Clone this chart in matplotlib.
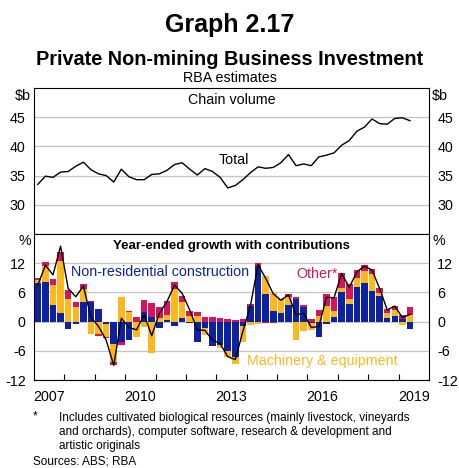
import numpy as np
import pandas as pd
import matplotlib
matplotlib.use('Agg')
import matplotlib.pyplot as plt
from matplotlib.ticker import FixedLocator, NullFormatter, FixedFormatter

plt.rcParams['font.family'] = ['Liberation Sans', 'DejaVu Sans']

# ---------------- data ----------------
quarters = pd.period_range('2007Q1', '2019Q2', freq='Q')

# Chain volume, $b
total_level = [33.5, 34.9, 34.7, 35.6, 35.7, 36.6, 37.3, 36.0, 35.3, 35.0,
               33.9, 36.1, 34.8, 34.3, 34.3, 35.2, 35.3, 35.9, 36.9, 37.2,
               36.1, 35.1, 36.2, 35.7, 34.7, 32.9, 33.3, 34.3, 35.5, 36.5,
               36.25, 36.4, 37.2, 38.6, 36.7, 37.0, 36.7, 38.2, 38.5, 38.9,
               40.2, 41.0, 42.6, 43.3, 44.7, 43.9, 43.8, 44.8, 44.9, 44.4]

# Year-ended growth, %
growth_total = [7.5, 11.6, 9.6, 15.5, 6.8, 5.1, 7.3, 0.9, -1.0, -3.8,
                -9.0, 0.7, -1.2, -1.7, 1.4, -2.9, 1.7, 4.1, 7.5, 5.8,
                2.4, -1.7, -1.8, -3.8, -4.5, -7.2, -7.8, -2.0, 3.3, 11.7,
                8.9, 5.7, 4.4, 5.5, 1.4, 1.7, -1.2, -1.0, 5.0, 4.9,
                9.9, 7.0, 10.2, 11.4, 10.6, 6.8, 2.4, 3.2, 0.8, 1.5]

# Contributions, ppt
nonres = [8.0, 8.2, 3.4, 1.8, -1.5, -0.5, 4.1, 4.0, 2.6, -0.4,
          -4.6, -4.2, -3.7, 0.0, 2.0, 0.9, -1.4, 0.4, -1.0, 0.8,
          -0.3, -4.1, -1.3, -5.1, -4.8, -6.0, -7.2, -1.0, 3.3, 11.5,
          5.6, 2.2, 1.8, 3.4, 4.6, 3.0, -0.3, -3.2, -0.5, 0.9,
          6.1, 3.6, 7.2, 8.0, 6.3, 5.2, 0.7, 1.2, 0.5, -1.5]
machinery = [0.6, 3.3, 4.1, 10.7, 4.7, 2.9, 2.6, -2.5, -2.6, -2.7,
             -3.7, 5.0, 2.0, -3.2, -1.2, -6.4, 0.8, 1.0, 6.6, 3.3,
             1.2, 1.2, -1.4, 0.0, -0.7, -1.3, -1.6, -3.1, -0.8, -0.5,
             3.7, 3.6, 2.6, 1.7, -3.8, -2.0, -1.4, 1.2, 3.2, 1.3,
             0.9, 1.0, 1.7, 2.3, 3.4, 0.7, 1.0, 1.2, -0.8, 1.4]
other = [0.4, 0.7, 1.3, 1.7, 1.7, 1.2, 1.0, 0.2, -0.4, -0.3,
         -0.7, -0.6, 0.1, 0.9, 2.5, 3.0, 2.1, 2.8, 1.5, 1.2,
         1.0, 0.8, 0.9, 0.9, 0.7, 0.5, 0.4, 0.5, 0.3, 0.6,
         -0.2, -0.2, 0.2, 0.6, 0.4, 0.5, 0.5, 1.2, 2.5, 2.9,
         2.9, 3.2, 1.7, 1.3, 1.1, 1.1, 0.8, 0.8, 0.9, 1.5]

year_labels = ['2007', '2010', '2013', '2016', '2019']

# ---------------- style ----------------
BLUE = '#0c22a3'
ORANGE = '#ffb81c'
MAGENTA = '#d6145d'
GRID = '#c4c4c4'
FS = 10.3

W, H = 459, 468
fig = plt.figure(figsize=(W / 100, H / 100), dpi=100)

def fx(px):
    return px / W

def fy(py):
    return 1 - py / H

L, R = 34, 429
T1, MID, B2 = 88, 234, 380
ax1 = fig.add_axes([fx(L), fy(MID), fx(R - L), (MID - T1) / H])
ax2 = fig.add_axes([fx(L), fy(B2), fx(R - L), (B2 - MID) / H])

xpos = np.array([q.year + (q.quarter - 1) / 4 + 0.125 for q in quarters])

for ax in (ax1, ax2):
    ax.set_xlim(2007, 2020)
    for s in ax.spines.values():
        s.set_color('black')
        s.set_linewidth(0.8)
    ax.set_axisbelow(True)
    ax.yaxis.grid(True, color=GRID, linewidth=0.9)
    ax.tick_params(axis='y', which='both', left=False, right=False,
                   labelleft=True, labelright=True, labelsize=FS, pad=2.5)

# ---- top panel ----
ax1.plot(xpos, total_level, color='black', linewidth=1.0)
ax1.set_ylim(25, 50)
ax1.set_yticks([30, 35, 40, 45])
ax1.tick_params(axis='x', which='both', bottom=False, top=False,
                labelbottom=False)
ax1.text(2013.5, 47.9, 'Chain volume', ha='center', va='center', fontsize=FS)
ax1.text(2013.57, 37.7, 'Total', ha='center', va='center', fontsize=FS)
for xx, ha in ((-0.008, 'right'), (1.008, 'left')):
    ax1.text(xx, 48.6, '$b', transform=ax1.get_yaxis_transform(),
             ha=ha, va='center', fontsize=FS)

# ---- bottom panel ----
pos_base = np.zeros(len(xpos))
neg_base = np.zeros(len(xpos))
for vals, col in ((nonres, BLUE), (machinery, ORANGE), (other, MAGENTA)):
    v = np.asarray(vals, dtype=float)
    bottom = np.where(v >= 0, pos_base, neg_base)
    ax2.bar(xpos, v, bottom=bottom, width=0.215, color=col, linewidth=0,
            zorder=2)
    pos_base += np.where(v >= 0, v, 0)
    neg_base += np.where(v < 0, v, 0)
ax2.plot(xpos, growth_total, color='black', linewidth=1.0, zorder=3)
ax2.set_ylim(-12, 18)
ax2.set_yticks([-12, -6, 0, 6, 12])
ax2.set_yticklabels(['-12', '-6', '0', '6', '12'])
ax2.xaxis.set_major_locator(FixedLocator(np.arange(2008, 2020)))
ax2.xaxis.set_major_formatter(NullFormatter())
ax2.xaxis.set_minor_locator(FixedLocator([2007.5, 2010.5, 2013.5, 2016.5, 2019.5]))
ax2.xaxis.set_minor_formatter(FixedFormatter(year_labels))
ax2.tick_params(axis='x', which='major', direction='in', length=4,
                width=0.8, top=False)
ax2.tick_params(axis='x', which='minor', length=0, pad=7, labelsize=FS)
ax2.text(2013.5, 15.5, 'Year-ended growth with contributions', ha='center',
         va='center', fontsize=9.5, fontweight='bold')
ax2.text(2008.21, 10.2, 'Non-residential construction', ha='left',
         va='center', fontsize=FS, color=BLUE)
ax2.text(2016.31, 9.7, 'Other*', ha='center', va='center', fontsize=FS,
         color=MAGENTA)
ax2.text(2016.49, -8.1, 'Machinery & equipment', ha='center', va='center',
         fontsize=FS, color=ORANGE)
for xx, ha in ((-0.008, 'right'), (1.008, 'left')):
    ax2.text(xx, 16.5, '%', transform=ax2.get_yaxis_transform(),
             ha=ha, va='center', fontsize=FS)

# ---- titles ----
fig.text(0.5, fy(32), 'Graph 2.17', ha='center', va='baseline',
         fontsize=18, fontweight='bold')
fig.text(0.5, fy(65), 'Private Non-mining Business Investment', ha='center',
         va='baseline', fontsize=14.3, fontweight='bold')
fig.text(0.5, fy(82), 'RBA estimates', ha='center', va='baseline',
         fontsize=FS)

# ---- footnotes ----
NF = 8.45
fig.text(fx(33), fy(416), '*', ha='left', va='center', fontsize=NF)
fig.text(fx(59), fy(418),
         'Includes cultivated biological resources (mainly livestock, vineyards',
         ha='left', va='center', fontsize=NF)
fig.text(fx(59), fy(432),
         'and orchards), computer software, research & development and',
         ha='left', va='center', fontsize=NF)
fig.text(fx(59), fy(446), 'artistic originals', ha='left', va='center',
         fontsize=NF)
fig.text(fx(33), fy(462), 'Sources: ABS; RBA', ha='left', va='center',
         fontsize=NF)

fig.savefig('out.png', dpi=100)
